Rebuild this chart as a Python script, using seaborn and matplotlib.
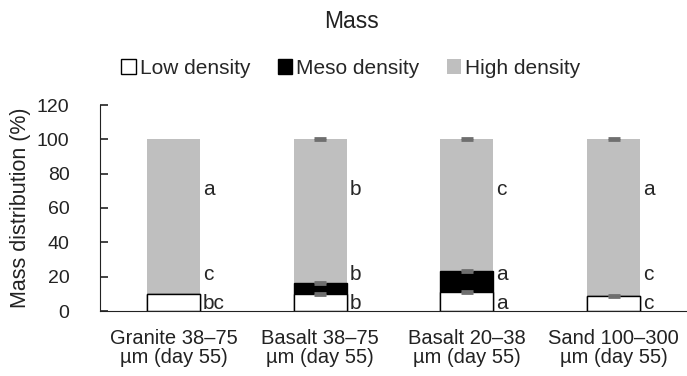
import numpy as np
import pandas as pd
import seaborn as sns
import matplotlib.pyplot as plt

categories = ["Granite 38\u201375\n\u00b5m (day 55)", "Basalt 38\u201375\n\u00b5m (day 55)",
              "Basalt 20\u201338\n\u00b5m (day 55)", "Sand 100\u2013300\n\u00b5m (day 55)"]
low = [9.8, 10.0, 11.0, 8.7]
meso = [0.0, 6.5, 12.5, 0.0]
high = [90.2, 83.5, 76.5, 91.3]
err_low = [0.0, 0.6, 0.6, 0.6]
err_meso = [0.0, 0.6, 0.6, 0.0]
err_high = [0.0, 0.6, 0.6, 0.6]
letters_low = ["bc", "b", "a", "c"]
letters_meso = ["c", "b", "a", "c"]
letters_high = ["a", "b", "c", "a"]

sns.set_style("white", {"ytick.left": True, "ytick.direction": "in"})
plt.rcParams["font.family"] = ["Liberation Sans", "DejaVu Sans"]

fig = plt.figure(figsize=(6.87, 3.76), dpi=100)
ax = fig.add_axes([100 / 687, 1 - 311 / 376, 1 - 100 / 687, 206 / 376])

df = pd.DataFrame({"cat": categories, "low": low, "meso": meso, "high": high})
df["lm"] = df["low"] + df["meso"]
df["total"] = df["lm"] + df["high"]

w = 0.36
sns.barplot(data=df, x="cat", y="total", color="#bfbfbf", width=w, saturation=1,
            linewidth=0, ax=ax, label="High density")
sns.barplot(data=df, x="cat", y="lm", color="black", width=w, saturation=1,
            edgecolor="black", linewidth=1, ax=ax, label="Meso density")
sns.barplot(data=df, x="cat", y="low", color="white", width=w, saturation=1,
            edgecolor="black", linewidth=1, ax=ax, label="Low density")

x = np.arange(len(categories))
for tops, errs in [(df["low"], err_low), (df["lm"], err_meso), (df["total"], err_high)]:
    for xi, t, e in zip(x, tops, errs):
        if e > 0:
            ax.errorbar(xi, t, yerr=e, fmt="none", ecolor="#6f6f6f", capsize=4,
                        capthick=2, elinewidth=1, zorder=5)

for xi in x:
    ax.text(xi + w / 2 + 0.02, 4.5, letters_low[xi], fontsize=15, va="center", ha="left")
    ax.text(xi + w / 2 + 0.02, 21, letters_meso[xi], fontsize=15, va="center", ha="left")
    ax.text(xi + w / 2 + 0.02, 71, letters_high[xi], fontsize=15, va="center", ha="left")

ax.set_xlim(-0.5, 3.5)
ax.set_ylim(0, 120)
ax.set_yticks(range(0, 121, 20))
ax.set_xlabel("")
ax.set_ylabel("Mass distribution (%)", fontsize=15.5, color="#222222", labelpad=4)
ax.tick_params(axis="y", left=True, length=6, width=1.2, direction="in", color="#222222",
               labelsize=14, pad=22)
ax.tick_params(axis="x", length=0, labelsize=14.5, pad=13)
for lab in ax.get_xticklabels():
    lab.set_linespacing(1.0)
for lab in ax.get_xticklabels() + ax.get_yticklabels():
    lab.set_color("#222222")
sns.despine(ax=ax)
ax.spines["left"].set_color("#222222")
ax.spines["bottom"].set_color("#222222")

handles, labels = ax.get_legend_handles_labels()
order = [labels.index(l) for l in ["Low density", "Meso density", "High density"]]
ax.legend([handles[i] for i in order], [labels[i] for i in order], loc="center",
          bbox_to_anchor=(351 / 687, 1 - 68 / 376), bbox_transform=fig.transFigure,
          ncol=3, frameon=False, fontsize=15, handlelength=0.7, handleheight=0.7,
          handletextpad=0.2, columnspacing=1.3)

fig.text(351 / 687, 1 - 22 / 376, "Mass", ha="center", va="center", fontsize=16.5, color="#222222")

fig.savefig("out.png", dpi=100)
